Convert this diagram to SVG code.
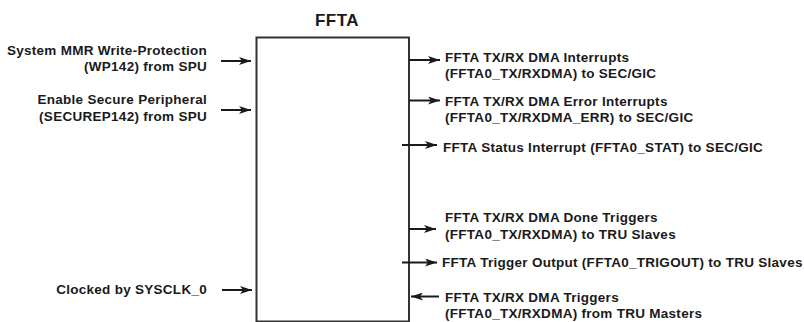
<svg xmlns="http://www.w3.org/2000/svg" width="804" height="322" viewBox="0 0 804 322">
<defs>
<marker id="ah" viewBox="0 0 12 8" refX="12" refY="4" markerWidth="12" markerHeight="8" markerUnits="userSpaceOnUse" orient="auto">
<path d="M0,0 L12,4 L0,8 L3,4 Z" fill="#1a1a1a"/>
</marker>
<style>
.t{font-family:"Liberation Sans",Arial,sans-serif;font-weight:bold;font-size:13.5px;letter-spacing:0.28px;fill:#1a1a1a}
.r{text-anchor:end}
.c{stroke:#1a1a1a;stroke-width:2;fill:none;marker-end:url(#ah)}
.box{fill:#fff;stroke:#333;stroke-width:2}
</style>
</defs>
<rect width="804" height="322" fill="#fff"/>
<g id="ffta">
<rect class="box" x="256.5" y="37.5" width="152.5" height="284"/>
<text class="t" x="337" y="26" text-anchor="middle" style="font-size:17px;letter-spacing:0.5px">FFTA</text>
</g>
<g id="in-wp">
<text class="t r" x="207" y="55">System MMR Write-Protection</text>
<text class="t r" x="207" y="71">(WP142) from SPU</text>
</g>
<g id="in-securep">
<text class="t r" x="207" y="104">Enable Secure Peripheral</text>
<text class="t r" x="207" y="120.5">(SECUREP142) from SPU</text>
</g>
<g id="in-clk">
<text class="t r" x="207" y="294">Clocked by SYSCLK_0</text>
</g>
<g id="out-dma">
<text class="t" x="445" y="62">FFTA TX/RX DMA Interrupts</text>
<text class="t" x="445" y="78">(FFTA0_TX/RXDMA) to SEC/GIC</text>
</g>
<g id="out-err">
<text class="t" x="445" y="105.5">FFTA TX/RX DMA Error Interrupts</text>
<text class="t" x="445" y="122">(FFTA0_TX/RXDMA_ERR) to SEC/GIC</text>
</g>
<g id="out-stat">
<text class="t" x="443" y="151.5">FFTA Status Interrupt (FFTA0_STAT) to SEC/GIC</text>
</g>
<g id="out-done">
<text class="t" x="445" y="222">FFTA TX/RX DMA Done Triggers</text>
<text class="t" x="445" y="238.5">(FFTA0_TX/RXDMA) to TRU Slaves</text>
</g>
<g id="out-trig">
<text class="t" x="442" y="267">FFTA Trigger Output (FFTA0_TRIGOUT) to TRU Slaves</text>
</g>
<g id="in-trig">
<text class="t" x="445" y="301.5">FFTA TX/RX DMA Triggers</text>
<text class="t" x="445" y="318">(FFTA0_TX/RXDMA) from TRU Masters</text>
</g>
<g id="connectors">
<line class="c" x1="221" y1="61" x2="251" y2="61"/>
<line class="c" x1="221" y1="110" x2="251" y2="110"/>
<line class="c" x1="222" y1="290" x2="252" y2="290"/>
<line class="c" x1="409" y1="60" x2="440" y2="60"/>
<line class="c" x1="409" y1="100.5" x2="440" y2="100.5"/>
<line class="c" x1="402" y1="145" x2="437" y2="145"/>
<line class="c" x1="409" y1="229" x2="436" y2="229"/>
<line class="c" x1="402" y1="262.5" x2="437" y2="262.5"/>
<line class="c" x1="439" y1="296.5" x2="411" y2="296.5"/>
</g>
</svg>
